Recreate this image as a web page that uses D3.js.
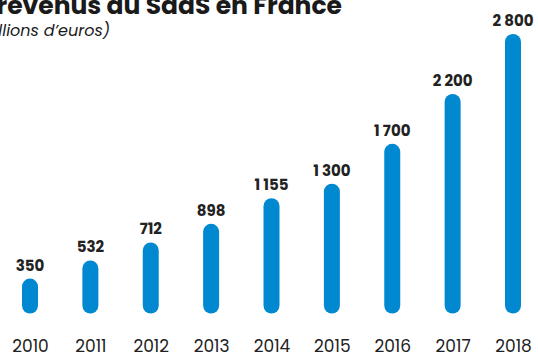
<!DOCTYPE html>
<html>
<head>
<meta charset="utf-8">
<script src="https://cdn.jsdelivr.net/npm/d3@7"></script>
<style>
  html, body { margin: 0; padding: 0; background: #fff; }
  svg { display: block; }
</style>
</head>
<body>
<svg id="chart" width="538" height="353"></svg>
<script>
// SaaS revenue in France, millions of euros
const years = ["2010", "2011", "2012", "2013", "2014", "2015", "2016", "2017", "2018"];
const revenue = [350, 532, 712, 898, 1155, 1300, 1700, 2200, 2800];
const valueLabels = ["350", "532", "712", "898", "1 155", "1 300", "1 700", "2 200", "2 800"];

const svg = d3.select("#chart");
const font = "Poppins, Inter, 'Noto Sans', sans-serif";

const x = d3.scalePoint()
  .domain(years)
  .range([30, 513]);

const y = d3.scaleLinear()
  .domain([0, 2800])
  .range([313.5, 34]);

const barW = 16;

// title (runs off the left edge)
svg.append("text")
  .attr("x", 342).attr("y", 14)
  .attr("text-anchor", "end")
  .attr("font-family", font)
  .attr("font-weight", 700)
  .attr("font-size", 25)
  .attr("fill", "#1a1a1a")
  .text("Les revenus du SaaS en France");

svg.append("text")
  .attr("x", 110).attr("y", 36)
  .attr("text-anchor", "end")
  .attr("font-family", font)
  .attr("font-style", "italic")
  .attr("font-size", 16)
  .attr("fill", "#1a1a1a")
  .text("(en millions d\u2019euros)");

// bars with fully rounded ends
svg.selectAll("rect.bar")
  .data(years)
  .join("rect")
  .attr("class", "bar")
  .attr("x", d => x(d) - barW / 2)
  .attr("width", barW)
  .attr("y", (d, i) => y(revenue[i]))
  .attr("height", (d, i) => y(0) - y(revenue[i]))
  .attr("rx", barW / 2)
  .attr("fill", "#0088d0");

// value labels above bars
svg.selectAll("text.val")
  .data(years)
  .join("text")
  .attr("class", "val")
  .attr("x", d => x(d))
  .attr("y", (d, i) => y(revenue[i]) - 8)
  .attr("text-anchor", "middle")
  .attr("font-family", font)
  .attr("font-weight", 700)
  .attr("font-size", 15)
  .attr("fill", "#222")
  .text((d, i) => valueLabels[i]);

// year axis
const axis = svg.append("g")
  .attr("transform", "translate(0,352)")
  .call(d3.axisBottom(x).tickSize(0).tickPadding(0));
axis.select(".domain").remove();
axis.selectAll("text")
  .attr("dy", 0)
  .attr("font-family", font)
  .attr("font-size", 17)
  .attr("fill", "#222");
</script>
</body>
</html>
